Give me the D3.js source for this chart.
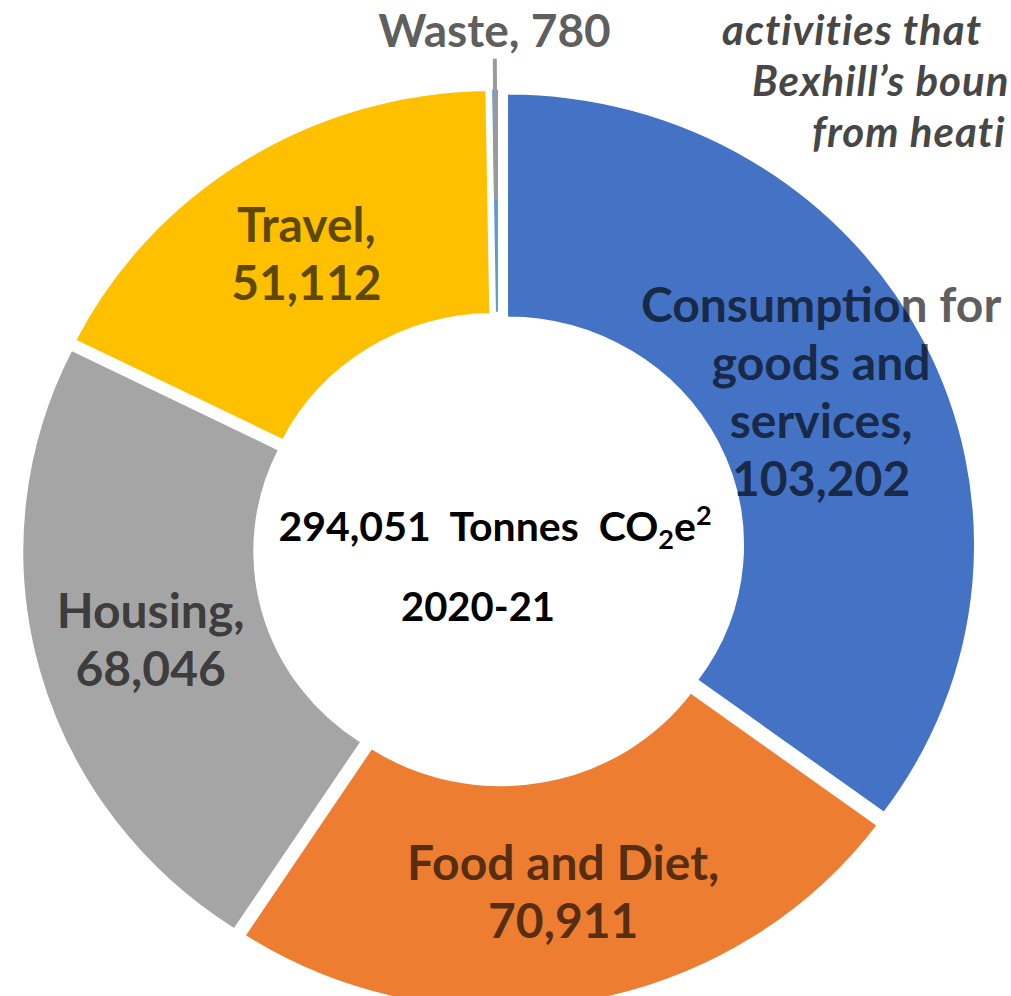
<!DOCTYPE html>
<html>
<head>
    <meta charset="utf-8">
    <title>Carbon footprint 2020-21</title>
    <style>
        body { margin: 0; background: #fff; }
        svg text { font-family: Lato, "Open Sans", sans-serif; font-weight: bold; }
    </style>
</head>
<body>
    <div id="donut"></div>

    <script src="https://d3js.org/d3.v7.min.js"></script>
    <script>
var categories = ["Consumption for goods and services", "Food and Diet", "Housing", "Travel", "Waste"];
var values = [103202, 70911, 68046, 51112, 780];
var colours = ["#4472C4", "#ED7D31", "#A5A5A5", "#FFC000", "#5B9BD5"];
// how Excel wrapped each label
var nameLines = [["Consumption for", "goods and", "services,"], ["Food and Diet,"], ["Housing,"], ["Travel,"], ["Waste,"]];
var period = "2020-21";
var noteLines = ["activities that", "Bexhill\u2019s boun", "from heati"];

var width = 1011;
var height = 996;
var cx = 499, cy = 549;
var outerR = 468;
var innerR = 236;
var squash = 0.965;     // the picture is a little flattened
var explode = 9;
var labelSize = 48;
var lineH = 58;

var fmt = d3.format(",");
var total = d3.sum(values);

var data = categories.map(function(c, i) {
    return { name: c, value: values[i], lines: nameLines[i], colour: colours[i] };
});

var svg = d3.select('#donut')
    .append('svg')
    .attr('width', width)
    .attr('height', height);

var arc = d3.arc()
    .innerRadius(innerR)
    .outerRadius(outerR);

var pie = d3.pie()
    .sort(null)
    .value(function(d) { return d.value; });

var slices = pie(data);

function mid(d) { return (d.startAngle + d.endAngle) / 2; }

function offset(d) {
    var a = mid(d);
    return [cx + explode * Math.sin(a), cy - explode * Math.cos(a) * squash];
}

// point at radius r along the middle of a slice
function along(d, r) {
    var p = offset(d), a = mid(d);
    return [p[0] + r * Math.sin(a), p[1] - r * Math.cos(a) * squash];
}

svg.selectAll('g.slice')
    .data(slices)
    .enter()
    .append('g')
    .attr('class', 'slice')
    .attr('transform', function(d) {
        var p = offset(d);
        return 'translate(' + p[0] + ',' + p[1] + ') scale(1,' + squash + ')';
    })
    .append('path')
    .attr('d', arc)
    .attr('fill', function(d) { return d.data.colour; })
    .style('stroke', '#fff')
    .style('stroke-width', '2px');

// leader line for the tiny slice
var small = slices.filter(function(d) { return d.endAngle - d.startAngle < 0.05; });
svg.selectAll('line.leader')
    .data(small)
    .enter()
    .append('line')
    .attr('class', 'leader')
    .attr('x1', function(d) { return along(d, outerR + 31)[0]; })
    .attr('y1', function(d) { return along(d, outerR + 31)[1]; })
    .attr('x2', function(d) { return along(d, outerR - 115)[0]; })
    .attr('y2', function(d) { return along(d, outerR - 115)[1]; })
    .style('stroke', '#9a9a9a')
    .style('stroke-width', '4px');

// labels inside the ring
var inside = slices.filter(function(d) { return d.endAngle - d.startAngle >= 0.05; });
svg.selectAll('text.label')
    .data(inside)
    .enter()
    .append('text')
    .attr('class', 'label')
    .attr('text-anchor', 'middle')
    .style('font-size', labelSize + 'px')
    .style('fill', '#000')
    .style('fill-opacity', 0.65)
    .each(function(d) {
        var c = arc.centroid(d);
        var p = offset(d);
        var x = p[0] + c[0];
        var y = p[1] + c[1] * squash;
        var lines = d.data.lines.concat([fmt(d.data.value)]);
        var y0 = y - (lines.length - 1) * lineH / 2 + labelSize * 0.35;
        d3.select(this).selectAll('tspan')
            .data(lines)
            .enter()
            .append('tspan')
            .attr('x', x)
            .attr('y', function(l, i) { return y0 + i * lineH; })
            .text(function(l) { return l; });
    });

// label outside for the tiny slice
svg.selectAll('text.outer')
    .data(small)
    .enter()
    .append('text')
    .attr('class', 'outer')
    .attr('text-anchor', 'middle')
    .style('font-size', '46px')
    .style('fill', '#000')
    .style('fill-opacity', 0.65)
    .attr('x', function(d) { return along(d, outerR + 61)[0]; })
    .attr('y', function(d) { return along(d, outerR + 61)[1] + labelSize * 0.35; })
    .text(function(d) { return d.data.lines[0] + ' ' + fmt(d.data.value); });

// centre text
var t1 = svg.append('text')
    .attr('x', cx - 4)
    .attr('y', cy - 8)
    .attr('text-anchor', 'middle')
    .style('font-size', '41px')
    .style('fill', '#000')
    .style('white-space', 'pre');
t1.append('tspan').text(fmt(total) + '  Tonnes  CO');
t1.append('tspan').text('2').attr('dy', 8).style('font-size', '27px');
t1.append('tspan').text('e').attr('dy', -8);
t1.append('tspan').text('2').attr('dy', -16).style('font-size', '27px');

svg.append('text')
    .attr('x', cx - 21)
    .attr('y', cy + 72)
    .attr('text-anchor', 'middle')
    .style('font-size', '40px')
    .style('fill', '#000')
    .text(period);

// cut-off note at the top right
var noteX = [722, 752, 812];
svg.selectAll('text.note')
    .data(noteLines)
    .enter()
    .append('text')
    .attr('class', 'note')
    .attr('x', function(d, i) { return noteX[i]; })
    .attr('y', function(d, i) { return 45 + i * 51; })
    .style('font-size', '42px')
    .style('letter-spacing', '1px')
    .style('font-style', 'italic')
    .style('fill', '#474747')
    .text(function(d) { return d; });
    </script>
</body>
</html>
